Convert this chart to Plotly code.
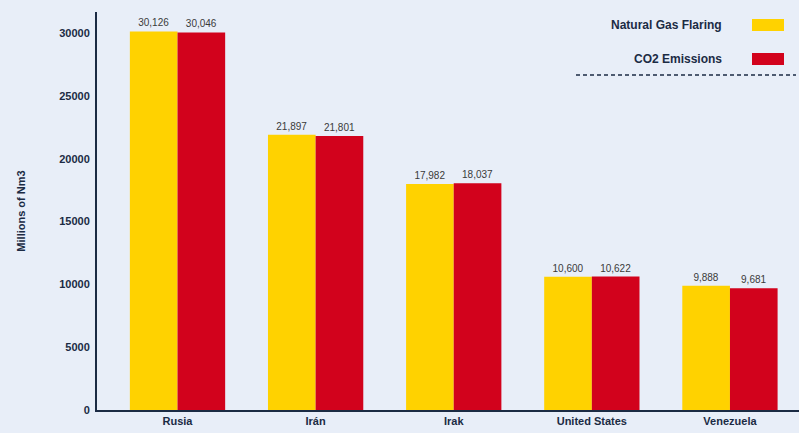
import plotly.graph_objects as go

countries = ["Rusia", "Irán", "Irak", "United States", "Venezuela"]
gas_flaring = [30126, 21897, 17982, 10600, 9888]
co2_emissions = [30046, 21801, 18037, 10622, 9681]
y_ticks = [0, 5000, 10000, 15000, 20000, 25000, 30000]

YELLOW = "#ffd200"
RED = "#d2021c"
NAVY = "#1b2b44"
BG = "#e8eef8"

fig = go.Figure()
fig.add_trace(go.Bar(
    x=countries, y=gas_flaring, name="Natural Gas Flaring",
    marker=dict(color=YELLOW, line=dict(width=0)),
    text=[f"{v:,}" for v in gas_flaring], textposition="outside",
    textfont=dict(size=10, color="#3a3a3a", family="Liberation Sans"),
    cliponaxis=False, showlegend=False,
))
fig.add_trace(go.Bar(
    x=countries, y=co2_emissions, name="CO2 Emissions",
    marker=dict(color=RED, line=dict(width=0)),
    text=[f"{v:,}" for v in co2_emissions], textposition="outside",
    textfont=dict(size=10, color="#3a3a3a", family="Liberation Sans"),
    cliponaxis=False, showlegend=False,
))

fig.update_layout(
    width=799, height=433,
    paper_bgcolor=BG, plot_bgcolor=BG,
    margin=dict(l=97, r=0, t=12, b=23, autoexpand=False),
    barmode="group", bargap=0.31, bargroupgap=0,
    font=dict(family="Liberation Sans", color=NAVY),
    xaxis=dict(
        range=[-0.583, 4.5], showgrid=False, showline=True, automargin=False,
        linecolor=NAVY, linewidth=2, ticks="", ticklabelstandoff=0,
        tickfont=dict(size=11, color=NAVY, family="Liberation Sans Narrow, Liberation Sans", weight="bold"),
    ),
    yaxis=dict(
        range=[0, 31670], tickvals=y_ticks, ticktext=[str(v) for v in y_ticks],
        showgrid=False, zeroline=False, showline=True, automargin=False,
        linecolor=NAVY, linewidth=2, ticks="", ticklabelstandoff=3,
        tickfont=dict(size=11, color=NAVY, family="Liberation Sans", weight="bold"),
        title=dict(text="Millions of Nm3", standoff=31,
                   font=dict(size=11, color=NAVY, family="Liberation Sans", weight="bold")),
    ),
)

# custom legend (text on the left, swatch on the right, dashed rule below)
legend_items = [("Natural Gas Flaring", YELLOW, 25), ("CO2 Emissions", RED, 59)]
for label, color, ypx in legend_items:
    yp = 1 - (ypx - 12) / 398
    fig.add_annotation(
        text=label, xref="paper", yref="paper", x=(724 - 97) / 702, y=yp,
        xanchor="right", yanchor="middle", showarrow=False,
        font=dict(size=12, color=NAVY, family="Liberation Sans Narrow, Liberation Sans", weight="bold"),
    )
    fig.add_shape(
        type="rect", xref="paper", yref="paper",
        x0=(752 - 97) / 702, x1=(784 - 97) / 702,
        y0=1 - (ypx + 6 - 12) / 398, y1=1 - (ypx - 6 - 12) / 398,
        fillcolor=color, line=dict(width=0),
    )
fig.add_shape(
    type="line", xref="paper", yref="paper",
    x0=(576 - 97) / 702, x1=(796 - 97) / 702,
    y0=1 - (75 - 12) / 398, y1=1 - (75 - 12) / 398,
    line=dict(color=NAVY, width=1.5, dash="4px,3px"),
)

fig.write_html("out.html", config={"displayModeBar": False},
               post_script="document.body.style.margin='0px';document.body.style.overflow='hidden';")
